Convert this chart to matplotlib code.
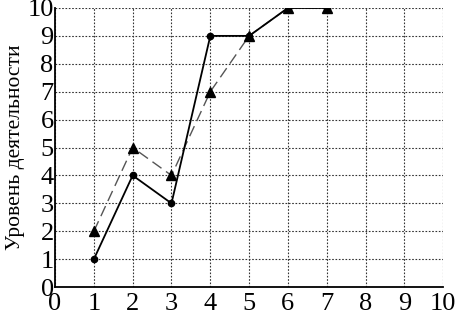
import matplotlib
matplotlib.use("Agg")
import matplotlib.pyplot as plt

x = [1, 2, 3, 4, 5, 6, 7]
series_solid = [1, 4, 3, 9, 9, 10, 10]
series_dashed = [2, 5, 4, 7, 9, 10, 10]
ticks = list(range(0, 11))
ylabel = "Уровень деятельности"

plt.rcParams['font.family'] = ['Liberation Serif', 'DejaVu Serif']

fig = plt.figure(figsize=(4.55, 3.19), dpi=100)
ax = fig.add_axes([0.121, 0.100, 0.853, 0.875])

ax.plot(x, series_dashed, color='#555555', linestyle=(0, (8, 4)), lw=1.0,
        marker='^', markersize=7, markerfacecolor='black', markeredgecolor='black', zorder=3)
ax.plot(x, series_solid, color='black', linestyle='-', lw=1.3,
        marker='o', markersize=4.5, markerfacecolor='black', markeredgecolor='black', zorder=4)

ax.set_xlim(0, 10)
ax.set_ylim(0, 10)
ax.set_xticks(ticks)
ax.set_yticks(ticks)
ax.tick_params(axis='y', labelsize=19, length=0, pad=1)
ax.tick_params(axis='x', labelsize=19, length=0, pad=4)
ax.grid(True, color='#333333', linestyle=(0, (1.5, 1.5)), lw=0.8)
ax.set_axisbelow(True)
for s in ['top', 'right']:
    ax.spines[s].set_visible(False)
ax.spines['left'].set_linewidth(1.3)
ax.spines['bottom'].set_linewidth(1.3)
ax.set_ylabel(ylabel, fontsize=15.5, labelpad=2)

fig.savefig("out.png", dpi=100)
